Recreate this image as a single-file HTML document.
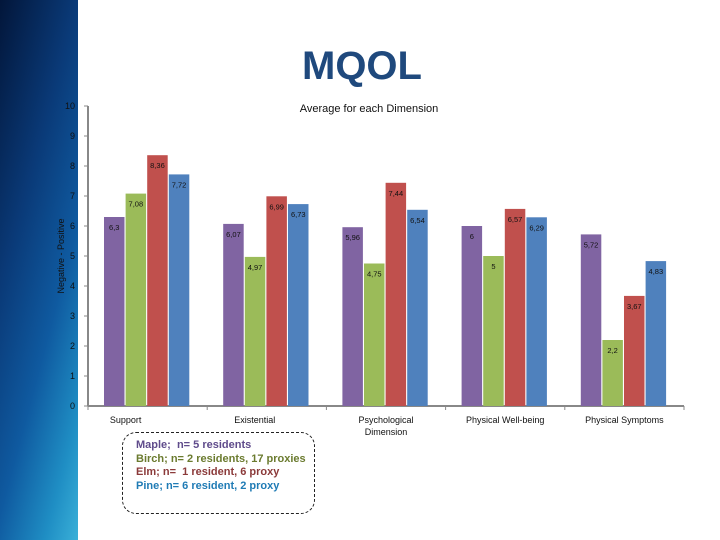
<!DOCTYPE html>
<html><head><meta charset="utf-8">
<style>
body{margin:0;width:720px;height:540px;overflow:hidden;background:#fff;font-family:"Liberation Sans",sans-serif;position:relative}
#strip{position:absolute;left:0;top:0;width:78px;height:540px;background:linear-gradient(105deg,#02163a 0%,#0a3a78 35%,#0f5aa0 62%,#1f8ec4 85%,#3ab0d8 100%)}
#title{position:absolute;left:0;width:720px;text-align:center;top:44px;font-size:40px;font-weight:bold;color:#1f497d;padding-left:4px;box-sizing:border-box}
#legend{position:absolute;left:122px;top:432px;width:193px;height:82px;border:1px dashed #222;border-radius:14px;box-sizing:border-box;padding:6px 0 0 13px;font-size:11px;font-weight:bold;line-height:13.5px}
svg{position:absolute;left:0;top:0}
</style></head><body>
<div id="strip"></div>
<div id="title">MQOL</div>
<svg id="chart" width="720" height="540"></svg>
<div id="legend">
<div style="color:#5f4b8b">Maple;&nbsp; n= 5 residents</div>
<div style="color:#6b7b2f">Birch; n= 2 residents, 17 proxies</div>
<div style="color:#8b3a3a">Elm; n=&nbsp; 1 resident, 6 proxy</div>
<div style="color:#1f7bb5">Pine; n= 6 resident, 2 proxy</div>
</div>
<script>
const categories=["Support","Existential","Psychological|Dimension","Physical Well-being","Physical Symptoms"];
const maple=[6.3,6.07,5.96,6,5.72];
const birch=[7.08,4.97,4.75,5,2.2];
const elm=[8.36,6.99,7.44,6.57,3.67];
const pine=[7.72,6.73,6.54,6.29,4.83];
const yTicks=[0,1,2,3,4,5,6,7,8,9,10];
const series=[maple,birch,elm,pine];
const colors=["#8064a2","#9bbb59","#c0504d","#4f81bd"];
const NS="http://www.w3.org/2000/svg";
const svg=document.getElementById('chart');
const x0=88,x1=684,yBase=406,yTop=106;
const catW=(x1-x0)/categories.length;
function y(v){return yBase-(v/10)*(yBase-yTop);}
function catX(i){return x0+i*catW;}
function mk(t,a){const e=document.createElementNS(NS,t);for(const k in a)e.setAttribute(k,a[k]);svg.appendChild(e);return e;}
let ax=mk('line',{x1:x0,y1:yTop,x2:x0,y2:yBase,stroke:'#888','stroke-width':2});


let bx=mk('line',{x1:x0,y1:yBase,x2:x1,y2:yBase,stroke:'#888','stroke-width':2});


yTicks.forEach(t=>{
 mk('line',{x1:x0-4,y1:y(t),x2:x0,y2:y(t),stroke:'#888','stroke-width':1});
 const tx=mk('text',{x:x0-13,y:y(t)+3,'text-anchor':'end','font-size':9,fill:'#111'});
 tx.textContent=t;
 
 
});
for(let i=0;i<=categories.length;i++){mk('line',{x1:catX(i),y1:yBase,x2:catX(i),y2:yBase+4,stroke:'#888','stroke-width':1});}
const yt=mk('text',{x:0,y:0,'text-anchor':'middle','font-size':9,fill:'#111',transform:'translate(64,256) rotate(-90)'});
yt.textContent='Negative - Positive';


const st=mk('text',{x:369,y:112,'text-anchor':'middle','font-size':11,fill:'#111'});
st.textContent='Average for each Dimension';


const bw=20.5,step=21.6;
categories.forEach((c,i)=>{
 const gx=catX(i)+16;
 series.forEach((s,j)=>{
  const v=s[i];const bxp=gx+j*step;
  const r=mk('rect',{x:bxp,y:y(v),width:bw,height:yBase-y(v),fill:colors[j]});
  
  
  const l=mk('text',{x:bxp+bw/2,y:y(v)+13,'text-anchor':'middle','font-size':7.5,fill:'#111'});
  l.textContent=String(v).replace('.',',');
  
  
 });
 const parts=c.split('|');
 parts.forEach((p,k)=>{
  const t=mk('text',{x:catX(i)+catW/2+(i==0?-22:(i==1?-12:0)),y:423+k*12,'text-anchor':'middle','font-size':9,fill:'#111'});
  t.textContent=p;
  
  
 });
});
</script>
</body></html>
